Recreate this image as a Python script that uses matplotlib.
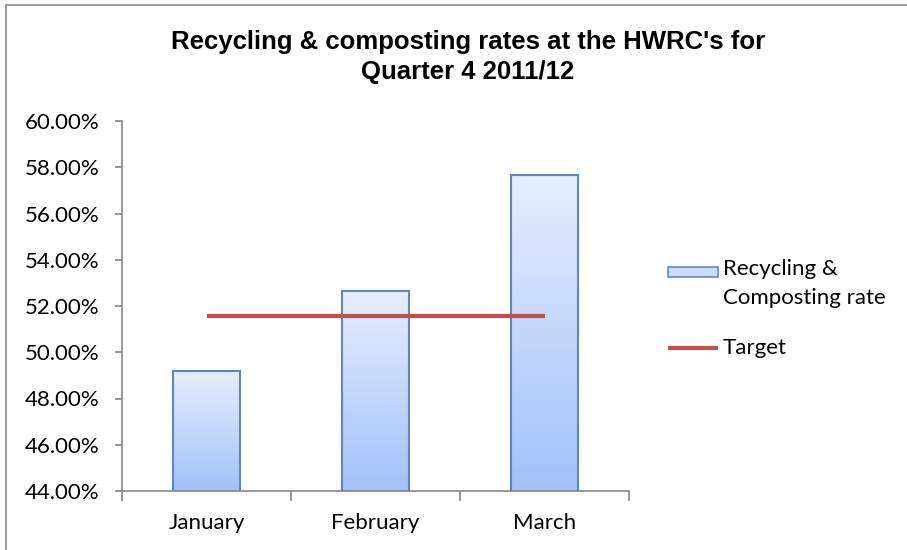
import matplotlib
matplotlib.use("Agg")
import matplotlib.pyplot as plt
import numpy as np
from matplotlib.patches import Rectangle
from matplotlib.lines import Line2D
from matplotlib.colors import LinearSegmentedColormap
from matplotlib.ticker import FuncFormatter, MultipleLocator

months = ["January", "February", "March"]
rates = [49.2, 52.65, 57.65]
target = [51.55, 51.55, 51.55]
title = "Recycling & composting rates at the HWRC's for\nQuarter 4 2011/12"
legend_labels = ["Recycling &\nComposting rate", "Target"]

plt.rcParams['font.family'] = ['Lato', 'DejaVu Sans']

W, H = 907, 550
fig = plt.figure(figsize=(W / 100, H / 100), dpi=100)
fig.patch.set_facecolor("white")
# outer chart border (left and top visible, others run off the image)
fig.add_artist(Rectangle((5.5 / W, -0.05), 1.2, 1 - 4.5 / H + 0.05,
                         transform=fig.transFigure, fill=False,
                         edgecolor="#8c8c8c", lw=1.2))

ax = fig.add_axes([122 / W, 1 - 491 / H, (629 - 122) / W, (491 - 121) / H])
x = np.arange(len(months))

bars = ax.bar(x, rates, width=0.4, color="none",
              edgecolor="#5b87c5", lw=1.5, zorder=3)
ax.set_ylim(44, 60)
ax.set_xlim(-0.5, 2.5)

grad = LinearSegmentedColormap.from_list("g", ["#a3c1f9", "#e6eefd"])
for b in bars:
    x0, w, h = b.get_x(), b.get_width(), b.get_height()
    im = ax.imshow(np.linspace(0, 1, 256).reshape(-1, 1), cmap=grad,
                   origin="lower", aspect="auto",
                   extent=(x0, x0 + w, 44, h), zorder=2)
    im.set_clip_path(b)

ax.plot(x, target, color="#c0504d", lw=3, zorder=4, solid_capstyle="butt")

ax.yaxis.set_major_locator(MultipleLocator(2))
ax.yaxis.set_major_formatter(FuncFormatter(lambda v, p: f"{v:.2f}%"))
ax.set_xticks(x)
ax.set_xticklabels(months)
ax.set_xticks([-0.5, 0.5, 1.5, 2.5], minor=True)
ax.tick_params(axis="x", which="major", length=0, pad=16, labelsize=16)
ax.tick_params(axis="x", which="minor", length=7, color="#868686", width=1.2)
ax.tick_params(axis="y", length=5, color="#868686", width=1.2, labelsize=16, pad=11)
for s in ["top", "right"]:
    ax.spines[s].set_visible(False)
for s in ["left", "bottom"]:
    ax.spines[s].set_color("#868686")
    ax.spines[s].set_linewidth(1.2)

fig.text(468 / W, 1 - 57 / H, title, ha="center", va="center", fontsize=18.5,
         fontweight="bold", family=["Liberation Sans", "DejaVu Sans"],
         linespacing=1.3)

# legend drawn by hand so the swatch sits on the first text line
fig.add_artist(Rectangle((668 / W, 1 - 277 / H), 50 / W, 10 / H,
                         transform=fig.transFigure, facecolor="#c9dafb",
                         edgecolor="#5b87c5", lw=1.2))
fig.add_artist(Line2D([668 / W, 718 / W], [1 - 348 / H, 1 - 348 / H],
                      transform=fig.transFigure, color="#c0504d", lw=3,
                      solid_capstyle="butt"))
fig.text(723 / W, 1 - 259 / H, legend_labels[0], ha="left", va="top",
         fontsize=16, linespacing=1.55, transform=fig.transFigure)
fig.text(723 / W, 1 - 348 / H, legend_labels[1], ha="left", va="center",
         fontsize=16, transform=fig.transFigure)

fig.savefig("out.png", dpi=100)
